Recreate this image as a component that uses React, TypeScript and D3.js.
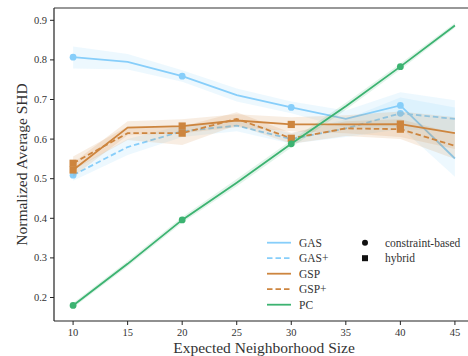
import React from "react";
import * as d3 from "d3";

// Expected neighborhood sizes on the x axis
const sizes = [10, 15, 20, 25, 30, 35, 40, 45];
const xTicks = [10, 15, 20, 25, 30, 35, 40, 45];
const yTicks = [0.2, 0.3, 0.4, 0.5, 0.6, 0.7, 0.8, 0.9];
// sizes at which the method markers are drawn
const markerSizes = [10, 20, 30, 40];

// Mean normalized SHD and confidence bands per method
const gasMean = [0.807, 0.795, 0.759, 0.711, 0.68, 0.651, 0.685, 0.551];
const gasLo = [0.778, 0.776, 0.745, 0.695, 0.665, 0.628, 0.63, 0.505];
const gasHi = [0.834, 0.815, 0.774, 0.728, 0.695, 0.672, 0.718, 0.698];

const gasPlusMean = [0.509, 0.58, 0.62, 0.634, 0.6, 0.627, 0.665, 0.651];
const gasPlusLo = [0.495, 0.56, 0.605, 0.62, 0.588, 0.605, 0.625, 0.62];
const gasPlusHi = [0.524, 0.6, 0.635, 0.648, 0.614, 0.65, 0.705, 0.68];

const gspMean = [0.522, 0.629, 0.633, 0.647, 0.637, 0.637, 0.638, 0.615];
const gspLo = [0.505, 0.61, 0.615, 0.63, 0.62, 0.615, 0.605, 0.575];
const gspHi = [0.54, 0.645, 0.65, 0.663, 0.655, 0.66, 0.67, 0.655];

const gspPlusMean = [0.539, 0.615, 0.615, 0.651, 0.602, 0.627, 0.625, 0.583];
const gspPlusLo = [0.522, 0.598, 0.585, 0.635, 0.588, 0.608, 0.6, 0.55];
const gspPlusHi = [0.556, 0.632, 0.632, 0.668, 0.616, 0.645, 0.65, 0.615];

const pcMean = [0.18, 0.285, 0.396, 0.49, 0.588, 0.683, 0.783, 0.887];
const pcLo = [0.174, 0.278, 0.389, 0.481, 0.579, 0.674, 0.775, 0.881];
const pcHi = [0.186, 0.292, 0.403, 0.499, 0.597, 0.692, 0.791, 0.893];

const legendNames = ["GAS", "GAS+", "GSP", "GSP+", "PC"];
const markerLegend = ["constraint-based", "hybrid"];

const BLUE = "#87cefa";
const ORANGE = "#cd853f";
const GREEN = "#3cb371";

type Series = {
  name: string;
  mean: number[];
  lo: number[];
  hi: number[];
  color: string;
  dashed: boolean;
  marker: "circle" | "square";
};

const series: Series[] = [
  { name: "GAS", mean: gasMean, lo: gasLo, hi: gasHi, color: BLUE, dashed: false, marker: "circle" },
  { name: "GAS+", mean: gasPlusMean, lo: gasPlusLo, hi: gasPlusHi, color: BLUE, dashed: true, marker: "circle" },
  { name: "GSP", mean: gspMean, lo: gspLo, hi: gspHi, color: ORANGE, dashed: false, marker: "square" },
  { name: "GSP+", mean: gspPlusMean, lo: gspPlusLo, hi: gspPlusHi, color: ORANGE, dashed: true, marker: "square" },
  { name: "PC", mean: pcMean, lo: pcLo, hi: pcHi, color: GREEN, dashed: false, marker: "circle" },
];

const W = 468;
const H = 356;
const left = 54;
const top = 8;
const bottom = 321;
const right = 474;

const FONT = "'Liberation Serif', 'DejaVu Serif', serif";

export default function App() {
  const x = d3.scaleLinear().domain([8.25, 46.75]).range([left, right]);
  const y = d3.scaleLinear().domain([0.2, 0.9]).range([297.5, 20.3]);

  const line = d3
    .line<number>()
    .x((_, i) => x(sizes[i]))
    .y((d) => y(d));

  const bandArea = (lo: number[], hi: number[]) =>
    d3
      .area<number>()
      .x((_, i) => x(sizes[i]))
      .y0((_, i) => y(lo[i]))
      .y1((_, i) => y(hi[i]))(sizes) as string;

  const legendX0 = 267;
  const legendX1 = 291;
  const legendY0 = 242.7;
  const legendStep = 15.5;

  return (
    <svg
      width={W}
      height={H}
      style={{ position: "absolute", left: 0, top: 0, background: "#fff" }}
      fontFamily={FONT}
    >
      <defs>
        <clipPath id="plot-area">
          <rect x={left} y={top} width={right - left} height={bottom - top} />
        </clipPath>
      </defs>

      <g clipPath="url(#plot-area)">
        {series.map((s) => (
          <g key={s.name}>
            <path d={bandArea(s.lo, s.hi)} fill={s.color} fillOpacity={0.15} stroke="none" />
            <path
              d={line(s.mean) as string}
              fill="none"
              stroke={s.color}
              strokeWidth={1.8}
              strokeDasharray={s.dashed ? "5.5,3" : undefined}
            />
            {markerSizes.map((m) => {
              const i = sizes.indexOf(m);
              const cx = x(m);
              const cy = y(s.mean[i]);
              return s.marker === "circle" ? (
                <circle key={m} cx={cx} cy={cy} r={3.4} fill={s.color} />
              ) : (
                <rect key={m} x={cx - 3.6} y={cy - 3.6} width={7.2} height={7.2} fill={s.color} />
              );
            })}
          </g>
        ))}
      </g>

      {/* spines */}
      <line x1={left} x2={left} y1={top} y2={bottom} stroke="#222" strokeWidth={1.2} />
      <line x1={left} x2={W} y1={bottom} y2={bottom} stroke="#222" strokeWidth={1.2} />
      <line x1={left} x2={W} y1={top} y2={top} stroke="#333" strokeWidth={1.2} />

      {/* y axis ticks */}
      {yTicks.map((t) => (
        <g key={t}>
          <line x1={left - 4} x2={left} y1={y(t)} y2={y(t)} stroke="#222" strokeWidth={1} />
          <text
            x={left - 7}
            y={y(t)}
            textAnchor="end"
            dominantBaseline="central"
            fontSize={10.5}
            fill="#333"
          >
            {t.toFixed(1)}
          </text>
        </g>
      ))}

      {/* x axis ticks */}
      {xTicks.map((t) => (
        <g key={t}>
          <line x1={x(t)} x2={x(t)} y1={bottom} y2={bottom + 4} stroke="#222" strokeWidth={1} />
          <text x={x(t)} y={bottom + 15} textAnchor="middle" fontSize={10.5} fill="#333">
            {t}
          </text>
        </g>
      ))}

      <text x={264} y={353} textAnchor="middle" fontSize={15.5} fill="#333">
        Expected Neighborhood Size
      </text>
      <text
        transform="translate(27,164.5) rotate(-90)"
        textAnchor="middle"
        fontSize={15.5}
        fill="#333"
      >
        Normalized Average SHD
      </text>

      {/* legend: methods */}
      {series.map((s, i) => {
        const ly = legendY0 + i * legendStep;
        return (
          <g key={s.name}>
            <line
              x1={legendX0}
              x2={legendX1}
              y1={ly}
              y2={ly}
              stroke={s.color}
              strokeWidth={1.8}
              strokeDasharray={s.dashed ? "5.5,3" : undefined}
            />
            <text x={299} y={ly} dominantBaseline="central" fontSize={11.5} fill="#333">
              {legendNames[i]}
            </text>
          </g>
        );
      })}

      {/* legend: marker kinds */}
      <circle cx={365} cy={legendY0} r={3} fill="#111" />
      <text x={385} y={legendY0} dominantBaseline="central" fontSize={11.5} fill="#333">
        {markerLegend[0]}
      </text>
      <rect x={362} y={legendY0 + legendStep - 3} width={6} height={6} fill="#111" />
      <text x={385} y={legendY0 + legendStep} dominantBaseline="central" fontSize={11.5} fill="#333">
        {markerLegend[1]}
      </text>
    </svg>
  );
}
